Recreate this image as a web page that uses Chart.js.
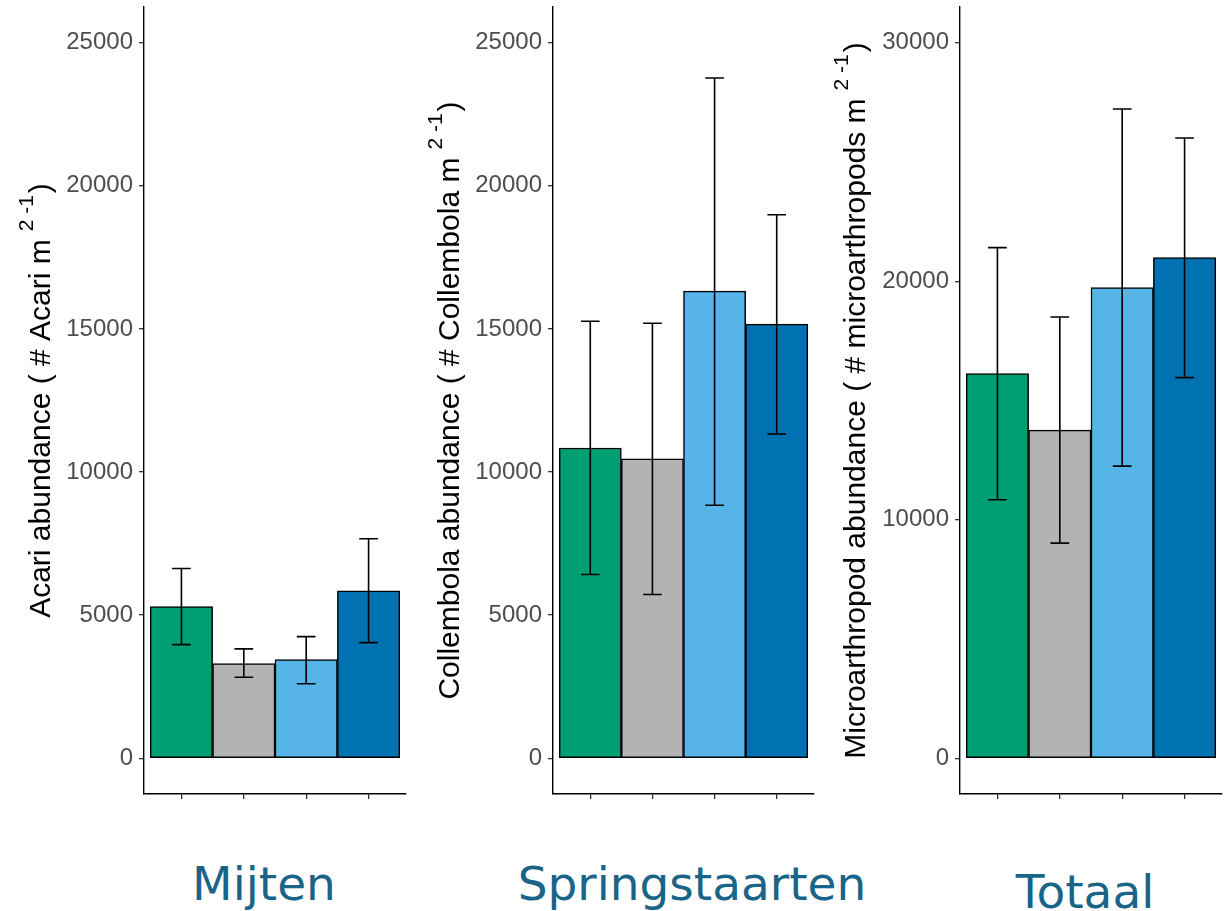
<!DOCTYPE html>
<html>
<head>
<meta charset="utf-8">
<title>Microarthropod abundance</title>
<script src="https://cdn.jsdelivr.net/npm/chart.js@4.4.1/dist/chart.umd.min.js"></script>
<style>
  html, body { margin: 0; padding: 0; background: #fff; width: 1228px; height: 911px; overflow: hidden; }
  canvas { position: absolute; top: 0; }
  .group {
    position: absolute; width: 400px; text-align: center; white-space: nowrap;
    font-family: 'DejaVu Sans', Verdana, sans-serif; font-size: 47px; line-height: 47px;
    color: #1a6487;
  }
</style>
</head>
<body>
<canvas id="mijten" width="410" height="830" style="left:0px"></canvas>
<canvas id="springstaarten" width="410" height="830" style="left:410px"></canvas>
<canvas id="totaal" width="408" height="830" style="left:820px"></canvas>
<div class="group" style="left:64px; top:860px">Mijten</div>
<div class="group" style="left:492px; top:860px">Springstaarten</div>
<div class="group" style="left:885px; top:868px">Totaal</div>

<script>
// Bar positions on the x axis (unlabelled treatments) and their fills
const xTicks = [1, 2, 3, 4];
const barColors = ['#009E73', '#B3B3B3', '#56B4E9', '#0072B2'];

// Acari (mites)
const acariMean = [5300, 3310, 3450, 5850];
const acariLow  = [3970, 2830, 2600, 4040];
const acariHigh = [6630, 3820, 4250, 7670];
const acariTicks = [0, 5000, 10000, 15000, 20000, 25000];

// Collembola (springtails)
const collembolaMean = [10840, 10460, 16320, 15170];
const collembolaLow  = [6420, 5720, 8840, 11330];
const collembolaHigh = [15270, 15200, 23770, 18990];
const collembolaTicks = [0, 5000, 10000, 15000, 20000, 25000];

// Total microarthropods
const totalMean = [16130, 13760, 19730, 20990];
const totalLow  = [10840, 9020, 12250, 15960];
const totalHigh = [21410, 18500, 27220, 26010];
const totalTicks = [0, 10000, 20000, 30000];

const AXIS_FONT = "'Liberation Sans', Arial, Helvetica, sans-serif";

function makePanel(id, p) {
  // Error bars drawn through the chart's own scales
  const errorBars = {
    id: 'errorBars',
    afterDatasetsDraw(chart) {
      const { ctx, scales: { x, y } } = chart;
      ctx.save();
      ctx.strokeStyle = '#000';
      ctx.lineWidth = 1.6;
      xTicks.forEach((pos, i) => {
        const cx = x.getPixelForValue(pos);
        const half = (x.getPixelForValue(pos + 0.15) - x.getPixelForValue(pos - 0.15)) / 2;
        const yl = y.getPixelForValue(p.low[i]);
        const yh = y.getPixelForValue(p.high[i]);
        ctx.beginPath();
        ctx.moveTo(cx, yh); ctx.lineTo(cx, yl);
        ctx.moveTo(cx - half, yh); ctx.lineTo(cx + half, yh);
        ctx.moveTo(cx - half, yl); ctx.lineTo(cx + half, yl);
        ctx.stroke();
      });
      ctx.restore();
    }
  };

  // Rotated y-axis title with a superscript unit
  const yTitle = {
    id: 'yTitle',
    afterDraw(chart) {
      const { ctx, chartArea } = chart;
      const mainFont = '30px ' + AXIS_FONT;
      const supFont = '21px ' + AXIS_FONT;
      ctx.save();
      ctx.font = mainFont;
      const w1 = ctx.measureText(p.title).width;
      const w3 = ctx.measureText(')').width;
      ctx.font = supFont;
      const w2 = ctx.measureText('2 -1').width;
      const gap1 = 8, gap2 = 2;
      const total = w1 + gap1 + w2 + gap2 + w3;
      ctx.translate(chartArea.left - p.titleOffset, (chartArea.top + chartArea.bottom) / 2);
      ctx.rotate(-Math.PI / 2);
      ctx.fillStyle = '#000';
      ctx.textAlign = 'left';
      ctx.textBaseline = 'alphabetic';
      let px = -total / 2;
      ctx.font = mainFont;
      ctx.fillText(p.title, px, 0);
      px += w1 + gap1;
      ctx.font = supFont;
      ctx.fillText('2 -1', px, -17);
      px += w2 + gap2;
      ctx.font = mainFont;
      ctx.fillText(')', px, 0);
      ctx.restore();
    }
  };

  return new Chart(document.getElementById(id), {
    type: 'bar',
    data: {
      datasets: [{
        data: xTicks.map((x, i) => ({ x: x, y: p.mean[i] })),
        backgroundColor: barColors,
        borderColor: '#000',
        borderWidth: 1.5,
        borderSkipped: false,
        barPercentage: 1,
        categoryPercentage: 1
      }]
    },
    options: {
      responsive: false,
      animation: false,
      layout: { padding: { top: 7, right: p.padRight, left: 0, bottom: 0 } },
      plugins: { legend: { display: false }, tooltip: { enabled: false }, title: { display: false } },
      scales: {
        x: {
          type: 'linear',
          offset: false,
          min: 0.4,
          max: 4.6,
          afterBuildTicks: s => { s.ticks = xTicks.map(v => ({ value: v })); },
          afterFit: s => { s.height = 36; s.paddingLeft = 0; s.paddingRight = 0; },
          ticks: { display: false },
          grid: { offset: false, drawOnChartArea: false, drawTicks: true, tickLength: 5, color: '#333', lineWidth: 1.3 },
          border: { display: true, color: '#000', width: 1.4 }
        },
        y: {
          min: -0.05 * p.limit,
          max: 1.05 * p.limit,
          afterBuildTicks: s => { s.ticks = p.ticks.map(v => ({ value: v })); },
          afterFit: s => { s.width = p.axisLeft; s.paddingTop = 0; s.paddingBottom = 0; },
          ticks: {
            color: '#4d4d4d',
            font: { family: AXIS_FONT, size: 24 },
            padding: 6,
            callback: v => String(v)
          },
          grid: { drawOnChartArea: false, drawTicks: true, tickLength: 5, color: '#333', lineWidth: 1.3 },
          border: { display: true, color: '#000', width: 1.4 }
        }
      }
    },
    plugins: [errorBars, yTitle]
  });
}

makePanel('mijten', {
  mean: acariMean, low: acariLow, high: acariHigh, ticks: acariTicks, limit: 25000,
  title: 'Acari abundance ( # Acari m', axisLeft: 144, padRight: 4, titleOffset: 94
});
makePanel('springstaarten', {
  mean: collembolaMean, low: collembolaLow, high: collembolaHigh, ticks: collembolaTicks, limit: 25000,
  title: 'Collembola abundance ( # Collembola m', axisLeft: 143, padRight: 6, titleOffset: 94.5
});
makePanel('totaal', {
  mean: totalMean, low: totalLow, high: totalHigh, ticks: totalTicks, limit: 30000,
  title: 'Microarthropod abundance ( # microarthropods m', axisLeft: 140, padRight: 6, titleOffset: 95
});
</script>
</body>
</html>
